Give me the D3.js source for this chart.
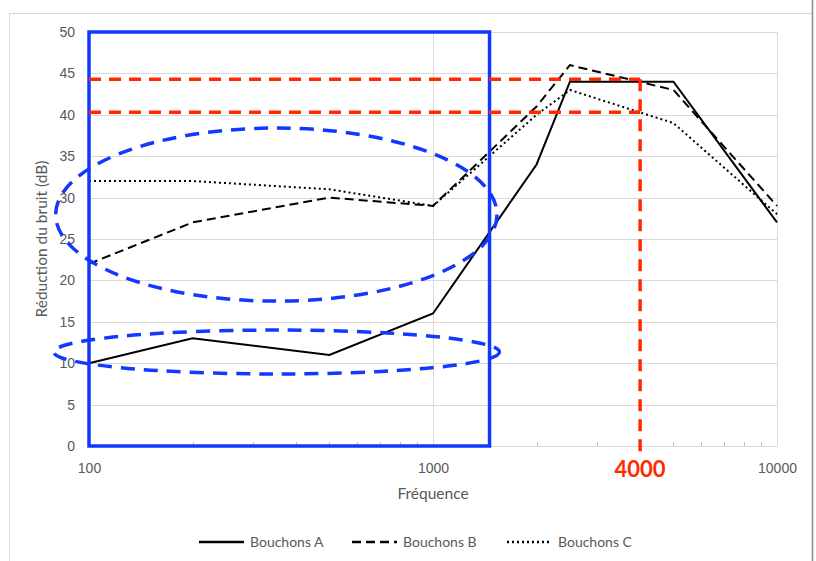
<!DOCTYPE html>
<meta charset="utf-8">
<head>
<style>
  body { margin: 0; background: #fff; }
  svg { display: block; font-family: Lato, "Open Sans", sans-serif; }
  .tick text { fill: #595959; font-size: 14px; }
  .grid line { stroke: #d9d9d9; stroke-width: 1px; }
</style>
</head>
<body>
<svg width="816" height="561"></svg>
<script src="https://d3js.org/d3.v7.min.js"></script>
<script>

// data
var frequencies = [100, 200, 500, 1000, 2000, 2500, 5000, 10000];
var bouchonsA = [10, 13, 11, 16, 34, 44, 44, 27];
var bouchonsB = [22, 27, 30, 29, 41, 46, 43, 29];
var bouchonsC = [32, 32, 31, 29, 40, 43, 39, 28];
var seriesNames = ["Bouchons A", "Bouchons B", "Bouchons C"];
var yTicks = [0, 5, 10, 15, 20, 25, 30, 35, 40, 45, 50];
var xTicks = [100, 1000, 10000];
var xMinor = [200, 300, 400, 500, 600, 700, 800, 900,
              2000, 3000, 4000, 5000, 6000, 7000, 8000, 9000];

// hand drawn annotations (data units)
var markFreq = 4000;
var markLevels = [44.3, 40.3];
var boxFreq = [100, 1460];
var ellipses = [
  { x0: 80, x1: 1535, y0: 17.5, y1: 38.4 },
  { x0: 79, x1: 1560, y0: 8.7, y1: 14.0 }
];

var svg = d3.select("svg"),
    width = +svg.attr("width"),
    height = +svg.attr("height");

var x = d3.scaleLog().domain([100, 10000]).range([89, 777]);
var y = d3.scaleLinear().domain([0, 50]).range([446, 32]);

// chart frame
svg.append("rect")
    .attr("x", 9.5).attr("y", 13.5)
    .attr("width", 803).attr("height", 600)
    .attr("fill", "none").attr("stroke", "#d9d9d9");
svg.append("line")
    .attr("x1", 812.5).attr("x2", 812.5).attr("y1", 0).attr("y2", height)
    .attr("stroke", "#8a8a8a").attr("stroke-width", 1.5);

// grid
var grid = svg.append("g").attr("class", "grid");
grid.selectAll(".hg").data(yTicks).enter().append("line")
    .attr("x1", x(100)).attr("x2", x(10000))
    .attr("y1", function(d) { return Math.round(y(d)) + 0.5; })
    .attr("y2", function(d) { return Math.round(y(d)) + 0.5; });
grid.selectAll(".vg").data(xTicks).enter().append("line")
    .attr("x1", function(d) { return Math.round(x(d)) + 0.5; })
    .attr("x2", function(d) { return Math.round(x(d)) + 0.5; })
    .attr("y1", y(0)).attr("y2", y(50));

// minor ticks on x axis
svg.append("g").selectAll("line").data(xMinor).enter().append("line")
    .attr("x1", function(d) { return Math.round(x(d)) + 0.5; })
    .attr("x2", function(d) { return Math.round(x(d)) + 0.5; })
    .attr("y1", y(0)).attr("y2", y(0) - 4)
    .attr("stroke", "#bfbfbf");

// axes (labels only)
var xAxis = svg.append("g")
    .attr("transform", "translate(0," + y(0) + ")")
    .call(d3.axisBottom(x).tickValues(xTicks).tickFormat(d3.format("d")).tickSize(0).tickPadding(17));
xAxis.select(".domain").remove();

var yAxis = svg.append("g")
    .attr("transform", "translate(" + x(100) + ",0)")
    .call(d3.axisLeft(y).tickValues(yTicks).tickSize(0).tickPadding(14));
yAxis.select(".domain").remove();

svg.append("text")
    .attr("x", x(1000)).attr("y", 499)
    .attr("text-anchor", "middle")
    .attr("fill", "#595959").attr("font-size", 15.5)
    .text("Fréquence");

svg.append("text")
    .attr("transform", "translate(47," + y(25) + ") rotate(-90)")
    .attr("text-anchor", "middle")
    .attr("fill", "#595959").attr("font-size", 15.5)
    .text("Réduction du bruit (dB)");

// series
var series = [
  { name: seriesNames[0], values: bouchonsA, dash: null },
  { name: seriesNames[1], values: bouchonsB, dash: "9,5" },
  { name: seriesNames[2], values: bouchonsC, dash: "2,3" }
];

var line = d3.line()
    .x(function(d, i) { return x(frequencies[i]); })
    .y(function(d) { return y(d); });

svg.append("g").selectAll("path").data(series).enter().append("path")
    .attr("d", function(d) { return line(d.values); })
    .attr("fill", "none")
    .attr("stroke", "#000")
    .attr("stroke-width", 2)
    .attr("stroke-dasharray", function(d) { return d.dash; });

// legend
var legendX = [199, 352, 507];
var legend = svg.append("g").selectAll("g").data(series).enter().append("g")
    .attr("transform", function(d, i) { return "translate(" + legendX[i] + ",542)"; });
legend.append("line")
    .attr("x1", 0).attr("x2", 45).attr("y1", 0).attr("y2", 0)
    .attr("stroke", "#000").attr("stroke-width", 2.5)
    .attr("stroke-dasharray", function(d) { return d.dash; });
legend.append("text")
    .attr("x", 51).attr("y", 5)
    .attr("fill", "#595959").attr("font-size", 14)
    .text(function(d) { return d.name; });

// annotations
var blue = "#1238ff", red = "#ff2a00";

svg.append("rect")
    .attr("x", x(boxFreq[0])).attr("y", y(50))
    .attr("width", x(boxFreq[1]) - x(boxFreq[0]))
    .attr("height", y(0) - y(50))
    .attr("fill", "none").attr("stroke", blue).attr("stroke-width", 3.5);

svg.append("g").selectAll("ellipse").data(ellipses).enter().append("ellipse")
    .attr("cx", function(d) { return (x(d.x0) + x(d.x1)) / 2; })
    .attr("cy", function(d) { return (y(d.y0) + y(d.y1)) / 2; })
    .attr("rx", function(d) { return (x(d.x1) - x(d.x0)) / 2; })
    .attr("ry", function(d) { return (y(d.y0) - y(d.y1)) / 2; })
    .attr("fill", "none").attr("stroke", blue)
    .attr("stroke-width", 3.5).attr("stroke-dasharray", "14,9");

svg.append("g").selectAll("line").data(markLevels).enter().append("line")
    .attr("x1", x(100)).attr("x2", x(markFreq))
    .attr("y1", function(d) { return y(d); })
    .attr("y2", function(d) { return y(d); })
    .attr("stroke", red).attr("stroke-width", 3.5)
    .attr("stroke-dasharray", "12,8");

svg.append("line")
    .attr("x1", x(markFreq)).attr("x2", x(markFreq))
    .attr("y1", y(markLevels[0])).attr("y2", y(0) + 6)
    .attr("stroke", red).attr("stroke-width", 3.5)
    .attr("stroke-dasharray", "12,8");

svg.append("text")
    .attr("x", x(markFreq)).attr("y", 477)
    .attr("text-anchor", "middle")
    .attr("fill", red).attr("font-size", 22).attr("font-weight", "bold")
    .text(markFreq);

</script>
</body>
